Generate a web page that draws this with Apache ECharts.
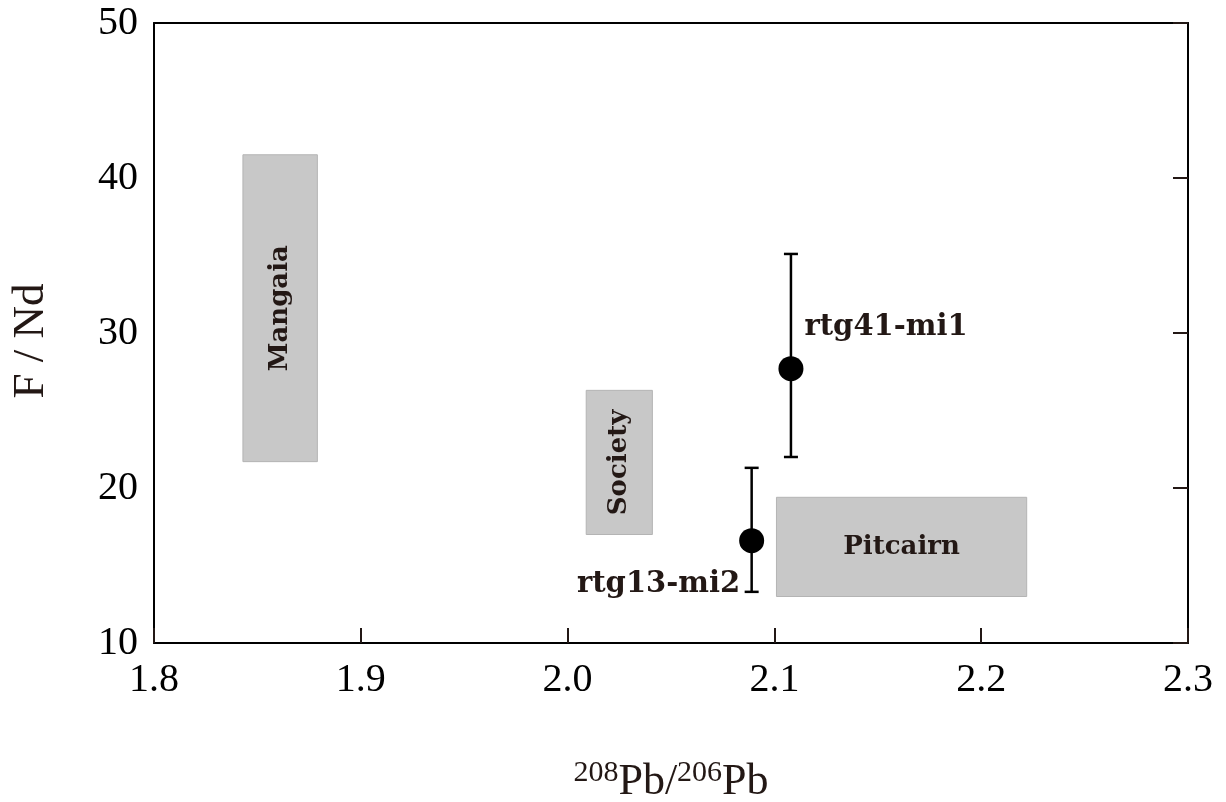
<!DOCTYPE html>
<html>
<head>
<meta charset="utf-8">
<script src="https://cdn.jsdelivr.net/npm/echarts@6/dist/echarts.min.js"></script>
<style>html,body{margin:0;padding:0;background:#fff}#c{width:1226px;height:802px}</style>
</head>
<body>
<div id="c"></div>
<script>
// ---- data ----
const boxNames = ['Mangaia', 'Society', 'Pitcairn'];
const boxXMin = [1.843, 2.009, 2.101];
const boxXMax = [1.879, 2.041, 2.222];
const boxYMin = [21.7, 17.0, 13.0];
const boxYMax = [41.5, 26.3, 19.4];
const boxVertical = [true, true, false];

const sampleNames = ['rtg41-mi1', 'rtg13-mi2'];
const sampleX = [2.108, 2.089];
const sampleY = [27.7, 16.6];
const errLow = [22.0, 13.3];
const errHigh = [35.1, 21.3];

const xTicks = [1.8, 1.9, 2.0, 2.1, 2.2, 2.3];
const yTicks = [10, 20, 30, 40, 50];

const FONT = "'Liberation Serif','Times New Roman',serif";
const BFONT = "'DejaVu Serif','Liberation Serif',serif";
const TXT = '#231815';

const chart = echarts.init(document.getElementById('c'), null, {renderer: 'canvas'});

const boxData = boxNames.map((n, i) => [boxXMin[i], boxYMin[i], boxXMax[i], boxYMax[i], n, boxVertical[i] ? 1 : 0]);
const errData = sampleNames.map((n, i) => [sampleX[i], errLow[i], errHigh[i]]);

const option = {
  animation: false,
  backgroundColor: '#fff',
  grid: {left: 154, right: 38, top: 23, bottom: 159, containLabel: false, outerBoundsMode: 'none'},
  xAxis: [{
    type: 'value', min: 1.8, max: 2.3, interval: 0.1, position: 'bottom',
    axisLine: {show: true, onZero: false, lineStyle: {color: '#000', width: 2}},
    axisTick: {show: true, inside: true, length: 15, lineStyle: {color: '#231815', width: 2}},
    axisLabel: {fontFamily: FONT, fontSize: 40, color: '#000', margin: 17,
      formatter: v => v.toFixed(1)},
    splitLine: {show: false},
    name: '{sup|208}{pb|Pb/}{sup|206}{pb|Pb}',
    nameLocation: 'middle', nameGap: 115,
    nameTextStyle: {
      rich: {
        pb: {fontFamily: FONT, fontSize: 44, color: TXT},
        sup: {fontFamily: FONT, fontSize: 30, color: TXT, padding: [0, 0, 18, 0]}
      }
    }
  }, {
    type: 'value', min: 1.8, max: 2.3, position: 'top',
    axisLine: {show: true, onZero: false, lineStyle: {color: '#000', width: 2}},
    axisTick: {show: false}, axisLabel: {show: false}, splitLine: {show: false}
  }],
  yAxis: [{
    type: 'value', min: 10, max: 50, interval: 10, position: 'left',
    axisLine: {show: true, onZero: false, lineStyle: {color: '#000', width: 2}},
    axisTick: {show: false},
    axisLabel: {fontFamily: FONT, fontSize: 40, color: '#000', margin: 16},
    splitLine: {show: false},
    name: 'F / Nd', nameLocation: 'middle', nameGap: 100, nameRotate: 90,
    nameTextStyle: {fontFamily: FONT, fontSize: 45, color: TXT, padding: [0, 16, 0, 0]}
  }, {
    type: 'value', min: 10, max: 50, interval: 10, position: 'right',
    axisLine: {show: true, onZero: false, lineStyle: {color: '#000', width: 2}},
    axisTick: {show: true, inside: true, length: 15, lineStyle: {color: '#231815', width: 2}},
    axisLabel: {show: false}, splitLine: {show: false}
  }],
  series: [{
    type: 'custom',
    xAxisIndex: 0, yAxisIndex: 0,
    data: boxData,
    renderItem: function (params, api) {
      const p0 = api.coord([api.value(0), api.value(3)]);
      const p1 = api.coord([api.value(2), api.value(1)]);
      const w = p1[0] - p0[0], h = p1[1] - p0[1];
      const name = boxNames[params.dataIndex];
      const vert = api.value(5) === 1;
      const cx = p0[0] + w / 2, cy = p0[1] + h / 2;
      return {
        type: 'group',
        children: [{
          type: 'rect',
          shape: {x: p0[0], y: p0[1], width: w, height: h},
          style: {fill: '#c8c8c8', stroke: '#b4b4b4', lineWidth: 1}
        }, {
          type: 'text',
          x: cx, y: cy,
          rotation: vert ? Math.PI / 2 : 0,
          style: {text: name, fontFamily: BFONT, fontWeight: 'bold', fontSize: 26,
            fill: TXT, align: 'center', verticalAlign: 'middle'}
        }]
      };
    }
  }, {
    type: 'custom',
    xAxisIndex: 0, yAxisIndex: 0,
    data: errData,
    z: 3,
    renderItem: function (params, api) {
      const top = api.coord([api.value(0), api.value(2)]);
      const bot = api.coord([api.value(0), api.value(1)]);
      const cap = 7;
      const st = {stroke: '#000', lineWidth: 2.5};
      return {
        type: 'group',
        children: [
          {type: 'line', shape: {x1: top[0], y1: top[1], x2: bot[0], y2: bot[1]}, style: st},
          {type: 'line', shape: {x1: top[0] - cap, y1: top[1], x2: top[0] + cap, y2: top[1]}, style: st},
          {type: 'line', shape: {x1: bot[0] - cap, y1: bot[1], x2: bot[0] + cap, y2: bot[1]}, style: st}
        ]
      };
    }
  }, {
    type: 'scatter',
    xAxisIndex: 0, yAxisIndex: 0,
    z: 4,
    symbol: 'circle', symbolSize: 25,
    itemStyle: {color: '#000', opacity: 1},
    data: [
      {value: [sampleX[0], sampleY[0]], name: sampleNames[0],
        label: {show: true, formatter: sampleNames[0], position: [26, -29], align: 'left', verticalAlign: 'middle'}},
      {value: [sampleX[1], sampleY[1]], name: sampleNames[1],
        label: {show: true, formatter: sampleNames[1], position: [1, 56], align: 'right', verticalAlign: 'middle'}}
    ],
    label: {fontFamily: BFONT, fontWeight: 'bold', fontSize: 29, color: TXT}
  }]
};
chart.setOption(option);
</script>
</body>
</html>
